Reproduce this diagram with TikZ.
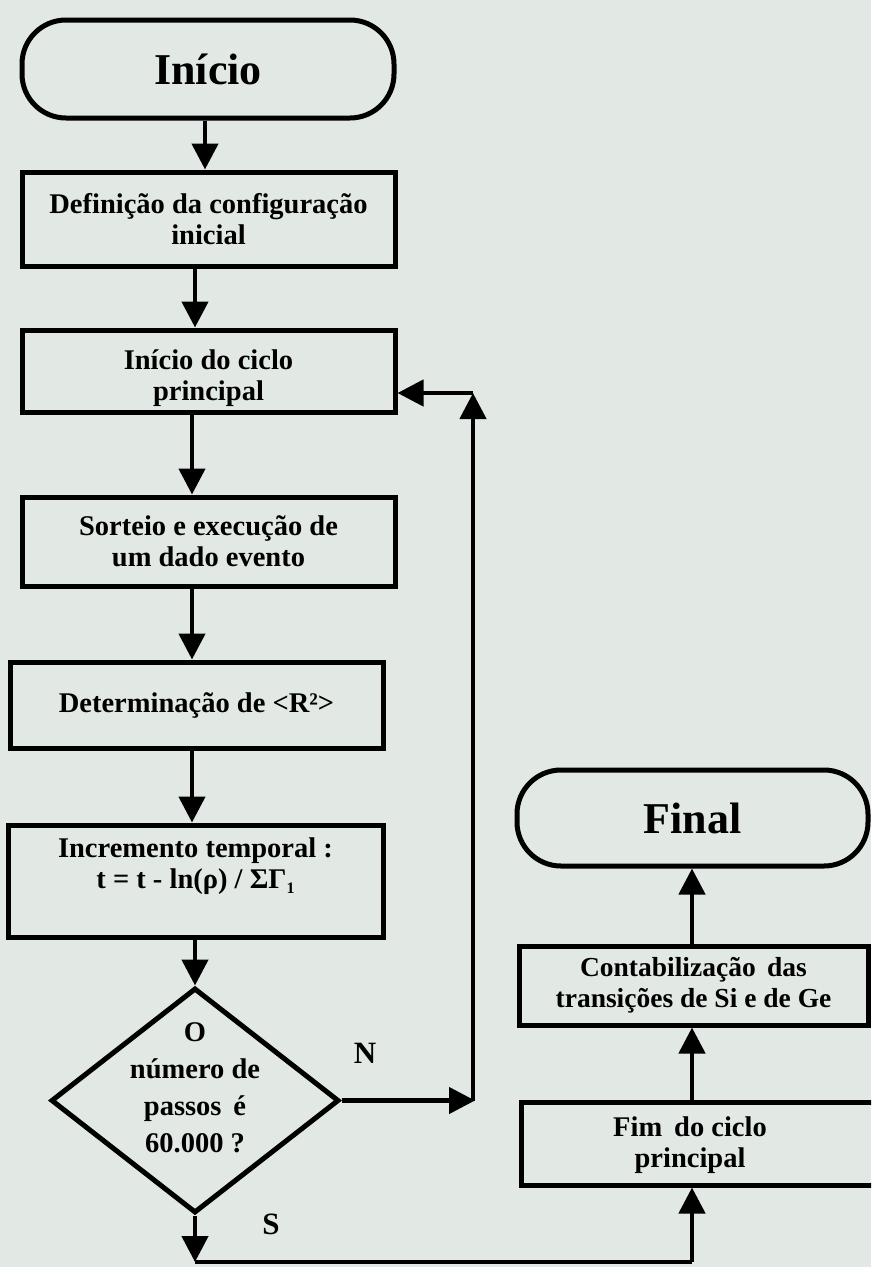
\documentclass[tikz,border=0pt]{standalone}
\usepackage{fontspec}
\setmainfont{Liberation Serif}
\usetikzlibrary{arrows.meta,shapes.geometric}
\definecolor{bg}{RGB}{226,233,228}
\begin{document}
\begin{tikzpicture}[x=1pt,y=-1pt,
  box/.style={draw, line width=5pt, rectangle, inner sep=0pt, align=center, font=\fontsize{28.5}{31}\selectfont\bfseries},
  term/.style={draw, line width=5pt, rectangle, rounded corners=44pt, inner sep=0pt, font=\fontsize{44}{46}\selectfont\bfseries},
  decision/.style={draw, line width=5pt, diamond, inner sep=0pt},
  arr/.style={line width=4.5pt, -{Triangle[length=26pt,width=26pt]}},
  conn/.style={line width=4.5pt},
  lbl/.style={font=\fontsize{31}{32}\selectfont\bfseries},
  txt/.style={align=center, font=\fontsize{28.5}{31}\selectfont\bfseries}
]
\useasboundingbox (0,0) rectangle (871,1267);
\fill[bg] (0,0) rectangle (871,1267);
\clip (0,0) rectangle (871,1267);

% left column
\node[term, minimum width=372pt, minimum height=98pt] (inicio) at (208,69) {Início};
\node[box, minimum width=373pt, minimum height=94pt] (def) at (208.5,219) {Definição da configuração\\inicial};
\node[box, minimum width=373pt, minimum height=82pt] (ciclo) at (208.5,371) {};
\node[txt] (ciclotext) at (208.5,378) {Início do ciclo\\principal};
\node[box, minimum width=373pt, minimum height=89pt] (sorteio) at (208.5,541.5) {Sorteio e execução de\\um dado evento};
\node[box, minimum width=373pt, minimum height=86pt] (det) at (196.5,705) {Determinação de <R²>};
\node[box, minimum width=375pt, minimum height=112pt] (incr) at (195.5,881) {};
\node[txt] (incrtext) at (195.5,866) {Incremento temporal :\\t = t - ln(ρ) / ΣΓ\raisebox{-5pt}{\fontsize{16}{16}\selectfont 1}};
\node[decision, minimum width=288pt, minimum height=225pt] (dec) at (195,1100.5) {};
\node[txt, font=\fontsize{28.5}{37}\selectfont\bfseries] (dectext) at (195,1088) {O\\número de\\passos \,é\\60.000 ?};

% right column
\node[term, minimum width=351pt, minimum height=96pt] (final) at (692.5,818) {Final};
\node[box, minimum width=349pt, minimum height=79pt, font=\fontsize{27.5}{31}\selectfont\bfseries] (contab) at (693.5,985.5) {Contabilização \,das\\transições de Si e de Ge};
\node[box, minimum width=364pt, minimum height=83pt] (fim) at (703,1143.5) {};
\node[txt] (fimtext) at (690,1145) {Fim \,do ciclo\\principal};

% labels
\node[lbl] (lN) at (365,1053) {N};
\node[lbl] (lS) at (271,1224) {S};

% helper coordinates
\coordinate (x205) at (205,0);
\coordinate (x195) at (195,0);
\coordinate (x192) at (192,0);
\coordinate (cN) at (475,1100.5);
\coordinate (cUp) at (473,393);
\coordinate (cS) at (195,1262);
\coordinate (cR) at (692,1262);
\coordinate (xr) at (692,0);

% main flow
\draw[arr] (inicio.south -| x205) -- (def.north -| x205);
\draw[arr] (def.south -| x195) -- (ciclo.north -| x195);
\draw[arr] (ciclo.south -| x192) -- (sorteio.north -| x192);
\draw[arr] (sorteio.south -| x192) -- (det.north -| x192);
\draw[arr] (det.south -| x192) -- (incr.north -| x192);
\draw[arr] (incr.south -| x195) -- (dec.north);

% N branch
\draw[arr] (dec.east) -- (cN);
\draw[arr] (cN -| cUp) -- (cUp);
\draw[arr] (cUp) -- (cUp -| ciclo.east);

% S branch
\draw[arr] (dec.south) -- (cS);
\draw[conn] (cS) -- (cR);
\draw[arr] (cR) -- (fim.south -| cR);

% right column flow
\draw[arr] (fim.north -| xr) -- (contab.south -| xr);
\draw[arr] (contab.north -| xr) -- (final.south -| xr);
\end{tikzpicture}
\end{document}
